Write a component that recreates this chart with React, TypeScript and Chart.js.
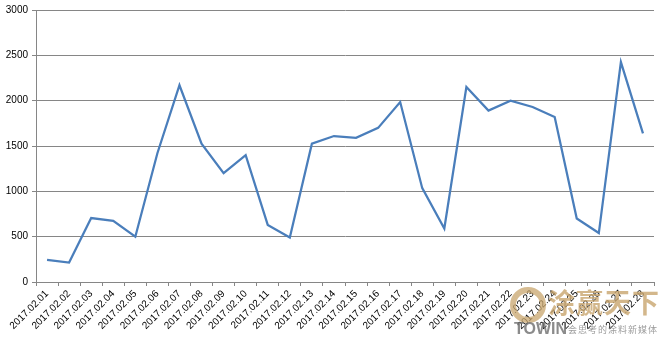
import React, { useEffect, useRef } from "react";
import { Chart, registerables } from "chart.js";

Chart.register(...registerables);

const categories = [
  "2017.02.01", "2017.02.02", "2017.02.03", "2017.02.04", "2017.02.05", "2017.02.06", "2017.02.07",
  "2017.02.08", "2017.02.09", "2017.02.10", "2017.02.11", "2017.02.12", "2017.02.13", "2017.02.14",
  "2017.02.15", "2017.02.16", "2017.02.17", "2017.02.18", "2017.02.19", "2017.02.20", "2017.02.21",
  "2017.02.22", "2017.02.23", "2017.02.24", "2017.02.25", "2017.02.26", "2017.02.27", "2017.02.28",
];
const seriesValues = [
  245, 215, 705, 675, 500, 1420, 2170, 1525, 1200, 1400, 630, 490, 1525, 1610,
  1590, 1700, 1985, 1035, 590, 2150, 1890, 2000, 1930, 1820, 700, 540, 2425, 1640,
];
const yMin = 0;
const yMax = 3000;
const yStep = 500;

export default function App() {
  const ref = useRef<HTMLCanvasElement | null>(null);
  useEffect(() => {
    if (!ref.current) return;
    const font = { family: "'Liberation Sans', Arial, sans-serif", size: 10 };
    const chart = new Chart(ref.current, {
      type: "line",
      data: {
        labels: categories,
        datasets: [
          {
            data: seriesValues,
            borderColor: "#4a7ebb",
            borderWidth: 2.25,
            pointRadius: 0,
            tension: 0,
            fill: false,
          },
        ],
      },
      options: {
        animation: false,
        responsive: false,
        maintainAspectRatio: false,
        layout: { padding: { top: 8, right: 9, left: 0, bottom: 0 } },
        plugins: { legend: { display: false }, tooltip: { enabled: false } },
        scales: {
          x: {
            offset: true,
            grid: {
              offset: true,
              drawOnChartArea: false,
              drawTicks: true,
              tickLength: 4,
              color: "#868686",
            },
            border: { color: "#868686", width: 1 },
            ticks: {
              autoSkip: false,
              minRotation: 45,
              maxRotation: 45,
              color: "#000",
              font,
              padding: 2,
            },
            afterFit: (s: any) => {
              s.height = 57;
            },
          },
          y: {
            min: yMin,
            max: yMax,
            grid: { color: "#868686", tickLength: 4, drawTicks: true },
            border: { color: "#868686", width: 1 },
            ticks: {
              stepSize: yStep,
              color: "#000",
              font,
              padding: 4,
              callback: (v: any) => String(v),
            },
            afterFit: (s: any) => {
              s.width = 36;
            },
          },
        },
      },
    });
    return () => chart.destroy();
  }, []);
  return (
    <div style={{ position: "fixed", left: 0, top: 0, width: 663, height: 339, background: "#fff" }}>
      <canvas ref={ref} width={663} height={339} style={{ width: 663, height: 339, display: "block" }} />
      <div
        style={{
          position: "absolute",
          left: 510,
          top: 287,
          width: 36,
          height: 36,
          borderRadius: "50%",
          border: "6px solid rgba(200,165,110,0.75)",
          boxSizing: "border-box",
          pointerEvents: "none",
        }}
      />
      <div
        style={{
          position: "absolute",
          left: 548,
          top: 286,
          fontFamily: "'Noto Sans CJK SC', sans-serif",
          fontWeight: 700,
          fontSize: 27,
          color: "rgba(200,165,110,0.8)",
          letterSpacing: 1,
          lineHeight: "32px",
          pointerEvents: "none",
        }}
      >
        涂赢天下
      </div>
      <div
        style={{
          position: "absolute",
          left: 514,
          top: 320,
          fontFamily: "'Liberation Sans', Arial, sans-serif",
          fontWeight: 700,
          fontSize: 16,
          color: "rgba(110,110,110,0.8)",
          lineHeight: "18px",
          pointerEvents: "none",
        }}
      >
        TOWIN
      </div>
      <div
        style={{
          position: "absolute",
          left: 568,
          top: 324,
          fontFamily: "'Noto Sans CJK SC', sans-serif",
          fontSize: 9,
          color: "rgba(130,130,130,0.8)",
          letterSpacing: 1,
          lineHeight: "12px",
          pointerEvents: "none",
        }}
      >
        会思考的涂料新媒体
      </div>
    </div>
  );
}
